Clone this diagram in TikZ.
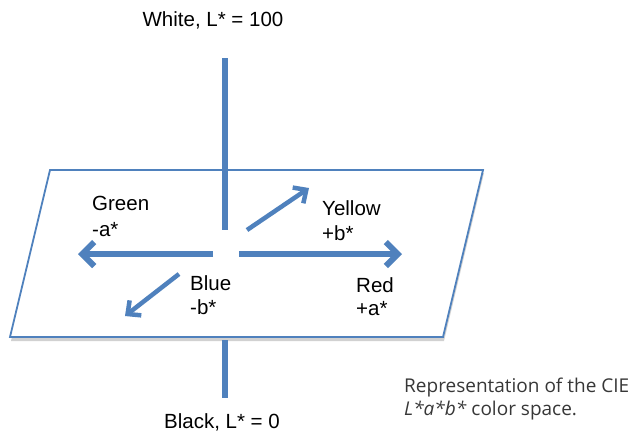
\documentclass[tikz,border=0pt]{standalone}
\usepackage{fontspec}
\setmainfont{Liberation Sans}
\newfontfamily\capfont{Open Sans}
\usetikzlibrary{arrows.meta}
\definecolor{axisblue}{RGB}{79,129,189}
\definecolor{captiongray}{RGB}{55,55,55}
\begin{document}
\begin{tikzpicture}[x=1pt,y=-1pt,
  lbl/.style={font=\fontsize{20.5}{22}\selectfont, inner sep=0pt, anchor=west},
  title/.style={font=\fontsize{20.5}{22}\selectfont, inner sep=0pt},
  bigarrow/.style={draw=axisblue, line width=6pt, -{Straight Barb[length=12pt,width=24pt]}},
  diagarrow/.style={draw=axisblue, line width=4.5pt, -{Straight Barb[length=10pt,width=19pt]}},
  axisline/.style={draw=axisblue, line width=6.5pt},
  plane/.style={draw=axisblue, line width=1.8pt, fill=white},
  planeshadow/.style={fill=black!45, opacity=0.4},
  caption/.style={font=\capfont\fontsize{19}{23}\selectfont, text=captiongray, inner sep=0pt, anchor=north west, align=left}
]
\useasboundingbox (0,0) rectangle (631,437);
% plane
\fill[planeshadow] (51,173) -- (484,173) -- (444,341) -- (11,341) -- cycle;
\draw[plane] (50,170) -- (483,170) -- (443,337) -- (10,337) -- cycle;
% coordinates
\coordinate (vtop) at (225,58);
\coordinate (vmid) at (225,230);
\coordinate (vlow) at (225,340);
\coordinate (vend) at (225,398);
\coordinate (lstart) at (213,254);
\coordinate (lend) at (78,254);
\coordinate (rstart) at (239,254);
\coordinate (rend) at (402,254);
\coordinate (ystart) at (247,230);
\coordinate (yend) at (309,188);
\coordinate (bstart) at (179,274);
\coordinate (bend) at (125,316);
% axes
\draw[axisline] (vtop) -- (vmid);
\draw[axisline] (vlow) -- (vend);
\draw[bigarrow] (lstart) -- (lend);
\draw[bigarrow] (rstart) -- (rend);
\draw[diagarrow] (ystart) -- (yend);
\draw[diagarrow] (bstart) -- (bend);
% labels
\node[title] (white) at (213,20) {White, L* = 100};
\node[title] (black) at (222,422) {Black, L* = 0};
\node[lbl] (green) at (92,203) {Green};
\node[lbl] (mina) at (92,230) {-a*};
\node[lbl] (yellow) at (322,208) {Yellow};
\node[lbl] (plusb) at (322,233) {+b*};
\node[lbl] (blue) at (190,283) {Blue};
\node[lbl] (minb) at (190,307) {-b*};
\node[lbl] (red) at (356,285) {Red};
\node[lbl] (plusa) at (356,309) {+a*};
\node[caption] (cap) at (404,378) {Representation of the CIE\\\textit{L*a*b*} color space.};
\end{tikzpicture}
\end{document}
